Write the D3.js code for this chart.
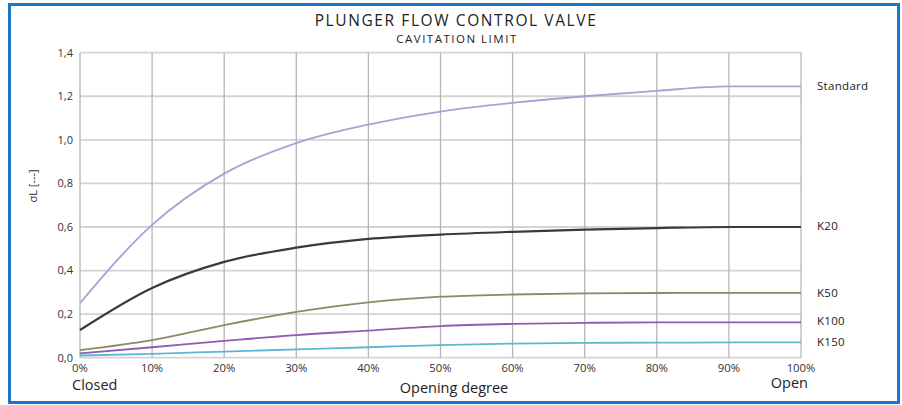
<!DOCTYPE html>
<html><head><meta charset="utf-8">
<script src="https://cdn.jsdelivr.net/npm/d3@7"></script>
<style>body{margin:0;background:#fff;}svg{display:block;font-family:"Open Sans",sans-serif;}</style>
</head><body><svg id="c" width="902" height="405"></svg>
<script>
const openings = [0,10,20,30,40,50,60,70,80,90,100];
const xTickLabels = ["0%","10%","20%","30%","40%","50%","60%","70%","80%","90%","100%"];
const yTicks = [0,0.2,0.4,0.6,0.8,1.0,1.2,1.4];
const standard = [0.25,0.61,0.845,0.985,1.07,1.13,1.17,1.20,1.225,1.245,1.245];
const k20 = [0.127,0.32,0.44,0.505,0.545,0.565,0.578,0.588,0.595,0.60,0.60];
const k50 = [0.035,0.081,0.15,0.21,0.254,0.28,0.29,0.295,0.297,0.298,0.298];
const k100 = [0.02,0.048,0.077,0.104,0.124,0.145,0.155,0.16,0.162,0.162,0.162];
const k150 = [0.01,0.018,0.028,0.038,0.048,0.058,0.065,0.068,0.069,0.07,0.07];
const seriesNames = ["Standard","K20","K50","K100","K150"];
const seriesColors = ["#a8a2d4","#3a3a3a","#8c8a66","#8e5cb0","#5ab8d6"];
const seriesValues = [standard,k20,k50,k100,k150];

const svg = d3.select("#c");
const x = d3.scaleLinear().domain([0,100]).range([80,801]);
const y = d3.scaleLinear().domain([0,1.4]).range([357.7,52.7]);

// border
svg.append("rect").attr("x",9.5).attr("y",4.5).attr("width",889).attr("height",398)
  .attr("fill","none").attr("stroke","#1b76c6").attr("stroke-width",3);

// grid
svg.append("g").selectAll("line").data(yTicks).join("line")
  .attr("x1",x(0)).attr("x2",x(100)).attr("y1",d=>y(d)).attr("y2",d=>y(d))
  .attr("stroke","#d6d2d2").attr("stroke-width",1.8);
svg.append("g").selectAll("line").data(openings).join("line")
  .attr("x1",d=>x(d)).attr("x2",d=>x(d)).attr("y1",y(1.4)).attr("y2",y(0))
  .attr("stroke","#b9b4b4").attr("stroke-width",1.3);

// y tick labels
svg.append("g").selectAll("text").data(yTicks).join("text")
  .attr("x",73).attr("y",d=>y(d)).attr("dy","0.35em").attr("text-anchor","end")
  .attr("font-size",11).attr("fill","#333").text(d=>d3.format(".1f")(d).replace(".",","));
// x tick labels
svg.append("g").selectAll("text").data(openings).join("text")
  .attr("x",d=>x(d)).attr("y",368).attr("dy","0.35em").attr("text-anchor","middle")
  .attr("font-size",11.3).attr("fill","#333").text((d,i)=>xTickLabels[i]);

// lines
const line = d3.line().x((d,i)=>x(openings[i])).y(d=>y(d)).curve(d3.curveMonotoneX);
seriesValues.forEach((vals,i)=>{
  svg.append("path").attr("d",line(vals)).attr("fill","none")
    .attr("stroke",seriesColors[i]).attr("stroke-width",i===1?2.2:1.8);
});

// series labels
const labelY = [86,225.7,292.7,321,342];
seriesNames.forEach((n,i)=>{
  svg.append("text").attr("x",817).attr("y",labelY[i]).attr("dy","0.35em")
    .attr("font-size",11.5).attr("letter-spacing",0.3).attr("fill","#222").text(n);
});

// titles
svg.append("text").attr("x",456).attr("y",25.5).attr("text-anchor","middle")
  .attr("font-size",15.5).attr("letter-spacing",1.6).attr("fill","#222").text("PLUNGER FLOW CONTROL VALVE");
svg.append("text").attr("x",457).attr("y",43).attr("text-anchor","middle")
  .attr("font-size",11.5).attr("letter-spacing",1.5).attr("fill","#222").text("CAVITATION LIMIT");

// axis labels
svg.append("text").attr("transform","translate(33,186) rotate(-90)").attr("text-anchor","middle")
  .attr("dy","0.35em").attr("font-size",11).attr("fill","#333").text("σL [---]");
svg.append("text").attr("x",72).attr("y",385).attr("dy","0.35em")
  .attr("font-size",14.5).attr("fill","#222").text("Closed");
svg.append("text").attr("x",454).attr("y",388).attr("dy","0.35em").attr("text-anchor","middle")
  .attr("font-size",14.5).attr("fill","#222").text("Opening degree");
svg.append("text").attr("x",808).attr("y",383).attr("dy","0.35em").attr("text-anchor","end")
  .attr("font-size",14.5).attr("fill","#222").text("Open");
</script></body></html>
